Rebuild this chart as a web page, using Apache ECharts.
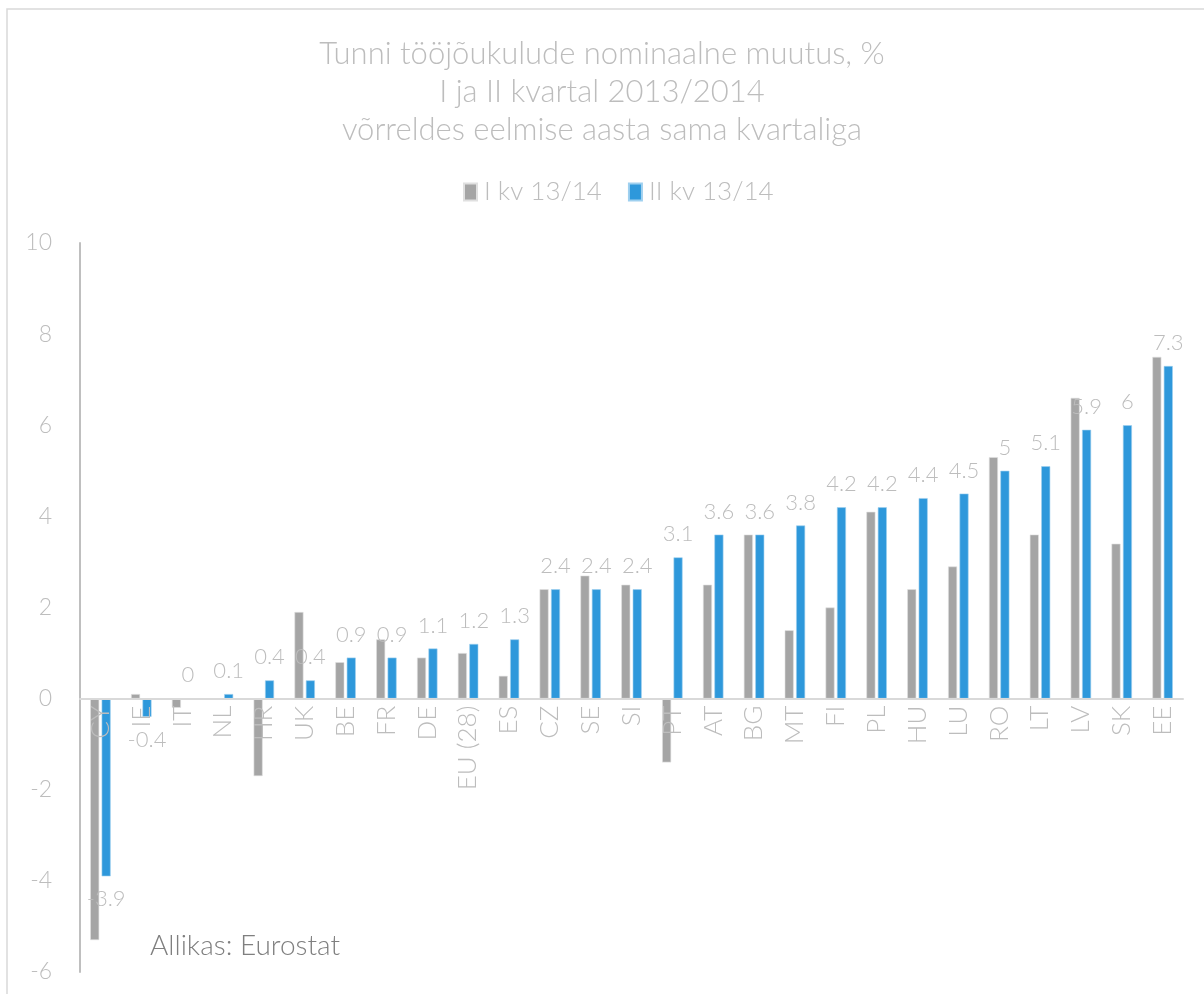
<!DOCTYPE html>
<html>
<head>
<meta charset="utf-8">
<script src="https://cdn.jsdelivr.net/npm/echarts@6/dist/echarts.min.js"></script>
<style>
html,body{margin:0;padding:0;background:#fff;}
#c{width:1204px;height:994px;}
</style>
</head>
<body>
<div id="c"></div>
<script>
const categories = ['CY','IE','IT','NL','HR','UK','BE','FR','DE','EU (28)','ES','CZ','SE','SI','PT','AT','BG','MT','FI','PL','HU','LU','RO','LT','LV','SK','EE'];
const q1Values = [-5.3,0.1,-0.2,0,-1.7,1.9,0.8,1.3,0.9,1.0,0.5,2.4,2.7,2.5,-1.4,2.5,3.6,1.5,2.0,4.1,2.4,2.9,5.3,3.6,6.6,3.4,7.5];
const q2Values = [-3.9,-0.4,0,0.1,0.4,0.4,0.9,0.9,1.1,1.2,1.3,2.4,2.4,2.4,3.1,3.6,3.6,3.8,4.2,4.2,4.4,4.5,5,5.1,5.9,6,7.3];
const yTicks = [-6,-4,-2,0,2,4,6,8,10];
const seriesNames = ['I kv 13/14','II kv 13/14'];
const titleLines = ['Tunni tööjõukulude nominaalne muutus, %','I ja II kvartal 2013/2014','võrreldes eelmise aasta sama kvartaliga'];
const sourceText = 'Allikas: Eurostat';

const FONT = 'Lato';
const W = 1204, H = 994;
const gridTop = 243, gridBottom = 22;
const yMin = yTicks[0], yMax = yTicks[yTicks.length-1];
const plotH = H - gridTop - gridBottom;
// place the category axis (line + labels) at value 0
const zeroOffset = -plotH * (0 - yMin) / (yMax - yMin);

const chart = echarts.init(document.getElementById('c'));
chart.setOption({
  animation: false,
  backgroundColor: '#fff',
  textStyle: {fontFamily: FONT, fontWeight: 300},
  title: {
    text: titleLines.join('\n'),
    left: 'center',
    top: 30,
    textStyle: {fontFamily: FONT, fontWeight: 300, fontSize: 31, color: '#bdbdbd', lineHeight: 38}
  },
  legend: {
    data: seriesNames,
    top: 174,
    left: 458,
    itemWidth: 13,
    itemHeight: 17,
    itemGap: 26,
    icon: 'rect',
    textStyle: {fontFamily: FONT, fontWeight: 300, fontSize: 26, color: '#bdbdbd', padding: [0,0,0,2]}
  },
  graphic: [
    {type: 'rect', shape: {x: 7, y: 9, width: 1220, height: 1010}, style: {fill: 'none', stroke: '#d9d9d9', lineWidth: 1.5}, silent: true},
    {type: 'text', left: 150, top: 932, style: {text: sourceText, fontFamily: FONT, fontWeight: 300, fontSize: 28, fill: '#7f7f7f'}}
  ],
  grid: {left: 80, right: 21, top: gridTop, bottom: gridBottom, containLabel: false, outerBoundsMode: 'none'},
  xAxis: {
    type: 'category',
    data: categories,
    position: 'bottom',
    offset: zeroOffset,
    z: 5,
    axisLine: {onZero: false, lineStyle: {color: '#d9d9d9', width: 2}},
    axisTick: {show: false},
    axisLabel: {rotate: 90, margin: 7, fontFamily: FONT, fontWeight: 300, fontSize: 26, color: '#bdbdbd', interval: 0}
  },
  yAxis: {
    type: 'value',
    min: yMin,
    max: yMax,
    interval: 2,
    splitLine: {show: false},
    axisLine: {show: true, onZero: false, lineStyle: {color: '#bfbfbf', width: 2}},
    axisTick: {show: false},
    axisLabel: {margin: 28, fontFamily: FONT, fontWeight: 300, fontSize: 23, color: '#bdbdbd'}
  },
  series: [
    {
      name: seriesNames[0],
      type: 'bar',
      data: q1Values,
      barWidth: 9,
      barGap: '27%',
      itemStyle: {color: '#a5a5a5', borderColor: '#e0e0e0', borderWidth: 0.6}
    },
    {
      name: seriesNames[1],
      type: 'bar',
      data: q2Values.map(v => ({value: v, label: {position: v < 0 ? 'bottom' : 'top'}})),
      barWidth: 9,
      itemStyle: {color: '#2e98db', borderColor: '#9fd0ef', borderWidth: 0.6},
      label: {show: true, distance: 12, fontFamily: FONT, fontWeight: 300, fontSize: 22, color: '#bdbdbd'}
    }
  ]
});
</script>
</body>
</html>
